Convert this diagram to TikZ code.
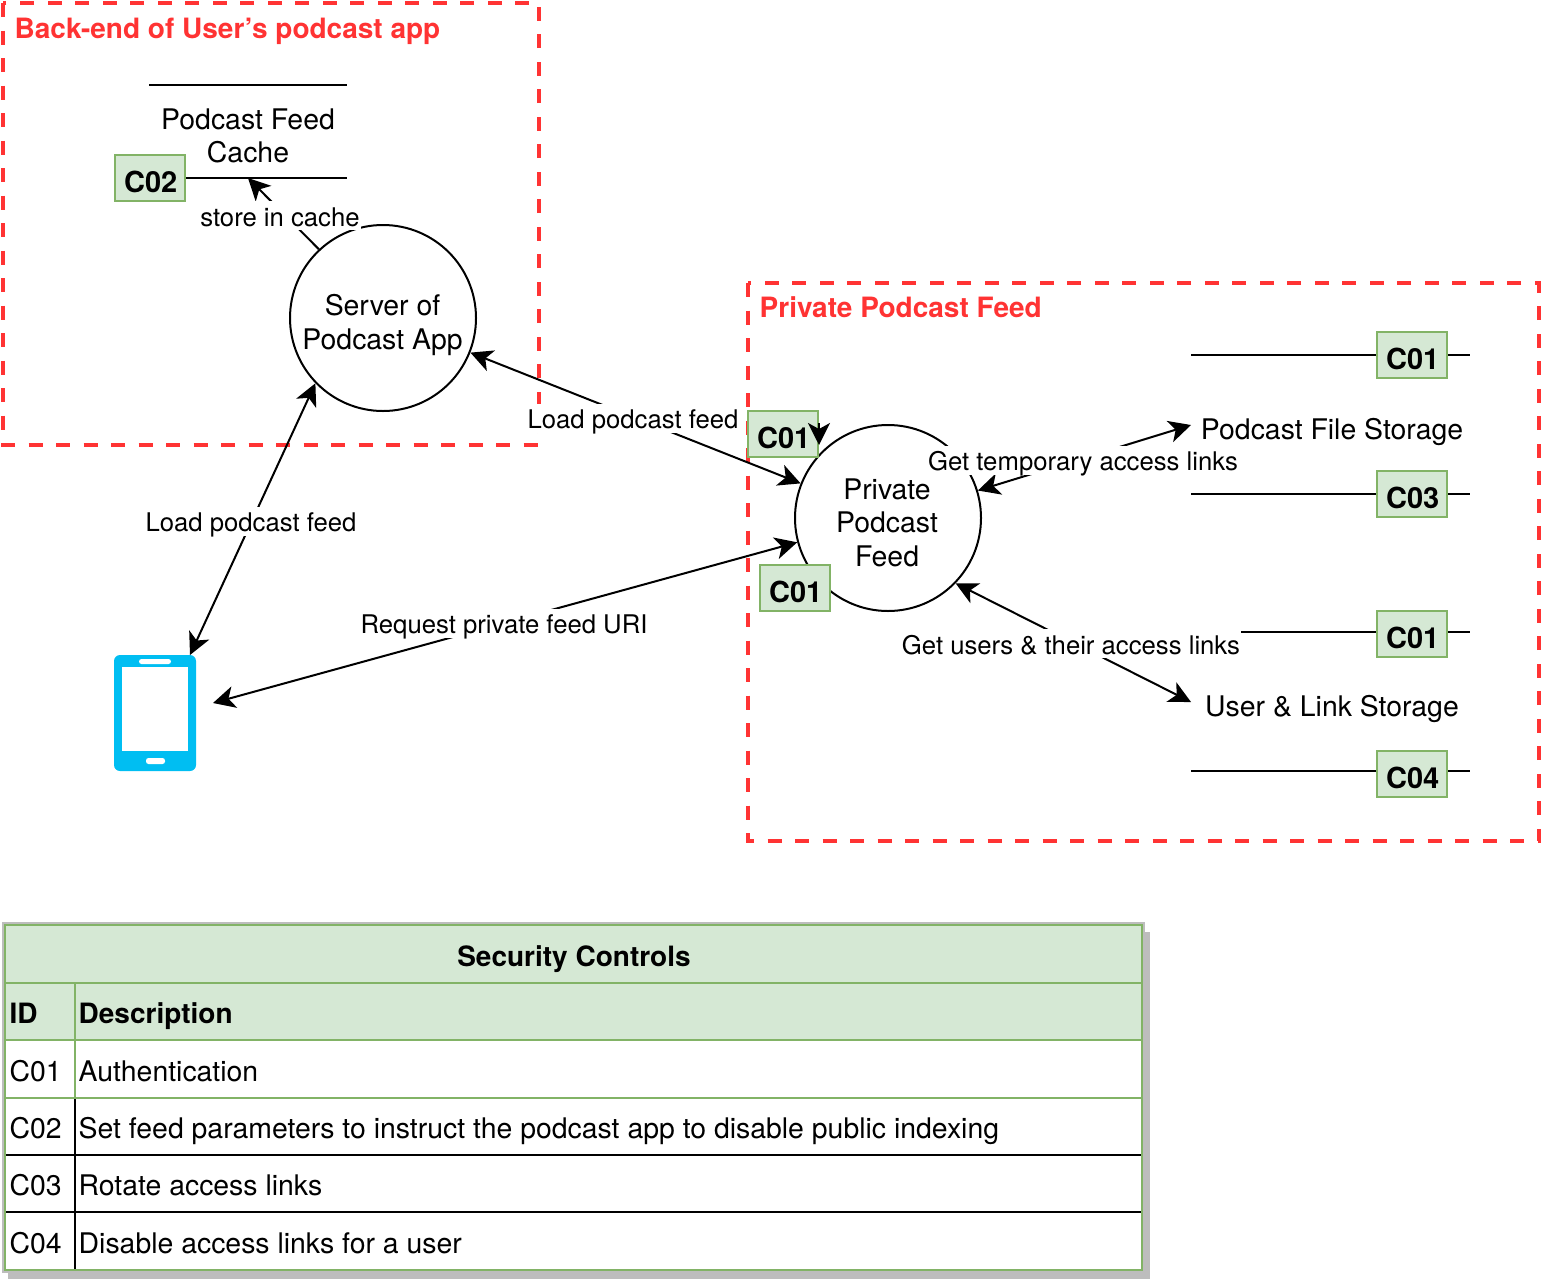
\documentclass[tikz,border=0pt]{standalone}
\usepackage{fontspec}
\setmainfont{TeX Gyre Heros}
\usetikzlibrary{arrows.meta}
\definecolor{gfill}{HTML}{D5E8D4}
\definecolor{gline}{HTML}{82B366}
\definecolor{redb}{HTML}{FF3333}
\definecolor{phoneblue}{HTML}{00BEF2}
\definecolor{shadowg}{HTML}{BDBDBD}
\newcommand{\badgetext}[1]{\raisebox{-14pt}[0pt][0pt]{\hspace*{1.5pt}#1}}
\tikzset{
  every node/.style={font=\fontsize{28.4}{33.4}\selectfont},
  circ/.style={circle,draw=black,line width=2pt,fill=white,minimum size=186pt,inner sep=0pt,align=center},
  flow/.style={line width=2pt,{Stealth[length=22pt,width=22pt,inset=6pt]}-{Stealth[length=22pt,width=22pt,inset=6pt]}},
  oneway/.style={line width=2pt,-{Stealth[length=22pt,width=22pt,inset=6pt]}},
  lab/.style={fill=white,inner sep=1pt,text height=24pt,text depth=3pt,font=\fontsize{25.7}{30}\selectfont},
  badge/.style={draw=gline,fill=gfill,line width=2.6pt,minimum width=70pt,minimum height=46pt,inner sep=0pt,font=\fontsize{29}{33}\selectfont\bfseries},
  zone/.style={draw=redb,line width=4.5pt,dash pattern=on 14pt off 13.5pt},
  zonetitle/.style={text=redb,anchor=base west,inner sep=0pt,font=\fontsize{28}{33}\selectfont\bfseries},
  store/.style={line width=2pt},
  cell/.style={anchor=base west,inner sep=0pt},
  hcell/.style={anchor=base west,inner sep=0pt,font=\fontsize{28}{33}\selectfont\bfseries},
  gr/.style={draw=gline,line width=2.7pt},
  bl/.style={draw=black,line width=2.5pt},
}
\begin{document}
\begin{tikzpicture}[x=1pt,y=-1pt]
\useasboundingbox (0,0) rectangle (1541,1280);
% zones
\draw[zone] (3,3) rectangle (539,445);
\draw[zone] (748,283) rectangle (1539,841);
\node[zonetitle] (ztitleA) at (14.5,38) {Back-end of User's podcast app};
\node[zonetitle] (ztitleB) at (759.5,317) {Private Podcast Feed};
% podcast feed cache
\draw[store] (149,85) -- (347,85);
\draw[store] (149,178) -- (347,178);
\node[align=center,inner sep=0pt] (cache) at (248,136) {Podcast Feed\\Cache};
\coordinate (cachepoint) at (248,178);
% file storage
\draw[store] (1191,355) -- (1470,355);
\draw[store] (1191,494) -- (1470,494);
\node[inner sep=0pt] (files) at (1332,432) {Podcast File Storage};
\coordinate (filespoint) at (1191,425);
% user storage
\draw[store] (1191,632) -- (1470,632);
\draw[store] (1191,771) -- (1470,771);
\node[inner sep=0pt] (users) at (1332,709) {User \& Link Storage};
\coordinate (userspoint) at (1191,702);
% circles
\node[circ] (server) at (383,318) {};
\node[circ] (priv) at (888,518) {};
\node[align=center,inner sep=0pt] (servertxt) at (382.5,325) {Server of\\Podcast App};
\node[align=center,inner sep=0pt] (privtxt) at (887,522.5) {Private\\Podcast\\Feed};
% phone
\node[draw=none,fill=phoneblue,rounded corners=6pt,minimum width=82pt,minimum height=116pt,inner sep=0pt] (phone) at (155,713) {};
\fill[white] (122,667) rectangle (188,751);
\fill[white,rounded corners=2.5pt] (139,659) rectangle (171,664);
\fill[white,rounded corners=2.5pt] (146,758) rectangle (165,764);
\coordinate (phonetop) at (190,655);
\coordinate (phoneside) at (213,703);
% connectors
\draw[flow] (server) -- (priv);
\draw[flow] (phonetop) -- (server.224.6);
\draw[flow] (phoneside) -- (priv.195.5);
\draw[oneway] (server.133.7) -- (cachepoint);
\draw[flow] (priv.17.5) -- (filespoint);
\draw[flow] (priv.-44) -- (userspoint);
% labels
\node[lab] (l1) at (633,418) {Load podcast feed};
\node[lab] (l2) at (251,521) {Load podcast feed};
\node[lab] (l3) at (504,623) {Request private feed URI};
\node[lab] (l4) at (280,215.75) {store in cache};
\node[lab] (l5) at (1083,460) {Get temporary access links};
\node[lab] (l6) at (1071,643.75) {Get users \& their access links};
% badges
\node[badge] (b1) at (150,178) {\badgetext{C02}};
\node[badge] (b2) at (783,434) {\badgetext{C01}};
\node[badge] (b3) at (795,588) {\badgetext{C01}};
\node[badge] (b4) at (1412,355) {\badgetext{C01}};
\node[badge] (b5) at (1412,494) {\badgetext{C03}};
\node[badge] (b6) at (1412,634) {\badgetext{C01}};
\node[badge] (b7) at (1412,774) {\badgetext{C04}};
\coordinate (b2top) at (819,423);
\coordinate (b2tip) at (819,445);
\draw[oneway] (b2top) -- (b2tip);
% table
\fill[shadowg] (8,932) rectangle (1150,1279);
\fill[shadowg] (2,922) rectangle (1145,1273);
\fill[white] (5,925) rectangle (1142,1270);
\fill[gfill] (5,925) rectangle (1142,1040);
\draw[bl] (75,1098) -- (75,1270);
\draw[bl] (5,1155) -- (1142,1155);
\draw[bl] (5,1212) -- (1142,1212);
\draw[gr] (75,983) -- (75,1098);
\draw[gr] (5,983) -- (1142,983);
\draw[gr] (5,1040) -- (1142,1040);
\draw[gr] (5,1098) -- (1142,1098);
\draw[gr] (5,925) rectangle (1142,1270);
\node[anchor=base,inner sep=0pt,font=\fontsize{28}{33}\selectfont\bfseries] (ttitle) at (574,966) {Security Controls};
\node[hcell] (h1) at (9.5,1023) {ID};
\node[hcell] (h2) at (78.5,1023) {Description};
\node[cell] (r1a) at (9.5,1081) {C01};
\node[cell] (r1b) at (78.5,1081) {Authentication};
\node[cell] (r2a) at (9.5,1138) {C02};
\node[cell] (r2b) at (78.5,1138) {Set feed parameters to instruct the podcast app to disable public indexing};
\node[cell] (r3a) at (9.5,1195) {C03};
\node[cell] (r3b) at (78.5,1195) {Rotate access links};
\node[cell] (r4a) at (9.5,1253) {C04};
\node[cell] (r4b) at (78.5,1253) {Disable access links for a user};
\end{tikzpicture}
\end{document}
